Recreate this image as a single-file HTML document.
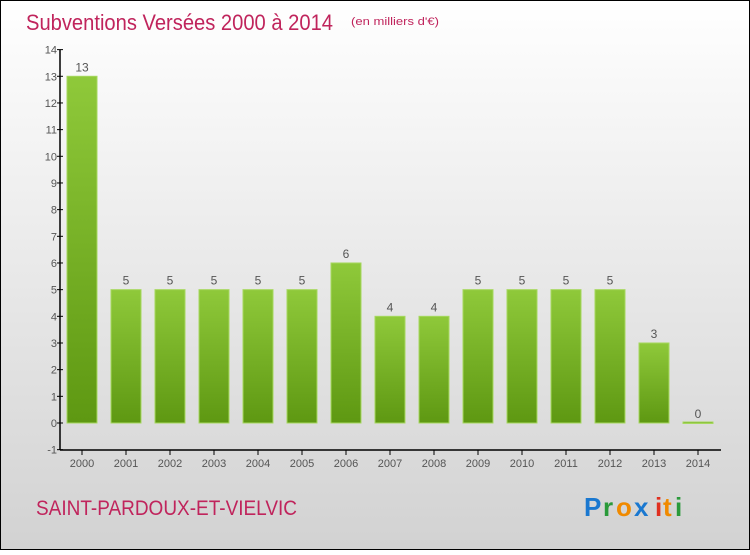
<!DOCTYPE html>
<html><head><meta charset="utf-8"><style>
html,body{margin:0;padding:0}
body{width:750px;height:550px;overflow:hidden;font-family:"Liberation Sans",sans-serif}
</style></head><body>
<svg width="750" height="550" xmlns="http://www.w3.org/2000/svg">
<defs>
<linearGradient id="bg" x1="0" y1="0" x2="0" y2="1"><stop offset="0" stop-color="#ffffff"/><stop offset="1" stop-color="#d2d2d2"/></linearGradient>
<linearGradient id="bar" x1="0" y1="0" x2="0" y2="1"><stop offset="0" stop-color="#8fc93a"/><stop offset="1" stop-color="#5e9812"/></linearGradient>
</defs>
<rect x="0.5" y="0.5" width="749" height="549" fill="url(#bg)" stroke="#000"/>
<text x="26" y="30" font-size="22" fill="#c0245c" textLength="307" lengthAdjust="spacingAndGlyphs">Subventions Versées 2000 à 2014</text>
<text x="351" y="25" font-size="11" fill="#c0245c" textLength="88" lengthAdjust="spacingAndGlyphs">(en milliers d'€)</text>
<g id="plot"></g>
<text x="36" y="515" font-size="21" fill="#c0245c" textLength="261" lengthAdjust="spacingAndGlyphs">SAINT-PARDOUX-ET-VIELVIC</text>
<g font-size="26" font-weight="bold">
<text x="584" y="516" fill="#1a78d0">P</text><text x="603" y="516" fill="#2a9a3a">r</text><text x="616" y="516" fill="#f08a00">o</text><text x="634" y="516" fill="#1a78d0">x</text><text x="655" y="516" fill="#e03020">i</text><text x="663" y="516" fill="#f08a00">t</text><text x="675" y="516" fill="#2a9a3a">i</text>
</g>
</svg>
<script>
const categories=["2000","2001","2002","2003","2004","2005","2006","2007","2008","2009","2010","2011","2012","2013","2014"];
const values=[13,5,5,5,5,5,6,4,4,5,5,5,5,3,0];
const yTicks=[-1,0,1,2,3,4,5,6,7,8,9,10,11,12,13,14];
const NS="http://www.w3.org/2000/svg";
const g=document.getElementById("plot");
const y=v=>423-v*26.67;
const x=i=>82+i*44;
function el(t,a,txt){const e=document.createElementNS(NS,t);for(const k in a)e.setAttribute(k,a[k]);if(txt!==undefined)e.textContent=txt;g.appendChild(e);return e;}
categories.forEach((c,i)=>{
  const v=values[i];
  const top=y(Math.max(v,0)), h=Math.max(Math.abs(y(v)-y(0)),1.5);
  const b=el("rect",{x:x(i)-15,y:v>0?top:y(0)-1,width:30,height:h,fill:"url(#bar)",stroke:"#a6d85e","stroke-width":1});
  
  
  const l=el("text",{x:x(i),y:y(Math.max(v,0))-5,"font-size":12,fill:"#555","text-anchor":"middle"},String(v));
  
  
  const t=el("line",{x1:x(i),x2:x(i),y1:450,y2:455,stroke:"#000"});
  
  
  const xl=el("text",{x:x(i),y:467,"font-size":11,fill:"#555","text-anchor":"middle"},c);
  
  
});
yTicks.forEach(v=>{
  const t=el("line",{x1:57,x2:63,y1:y(v),y2:y(v),stroke:"#000"});
  
  
  const l=el("text",{x:57,y:y(v)+4,"font-size":11,fill:"#555","text-anchor":"end"},String(v));
  
  
});
const ya=el("line",{x1:60,x2:60,y1:y(14),y2:450,stroke:"#000","stroke-width":1.5});


const xa=el("line",{x1:60,x2:721,y1:450,y2:450,stroke:"#000","stroke-width":1.5});


</script>
</body></html>
